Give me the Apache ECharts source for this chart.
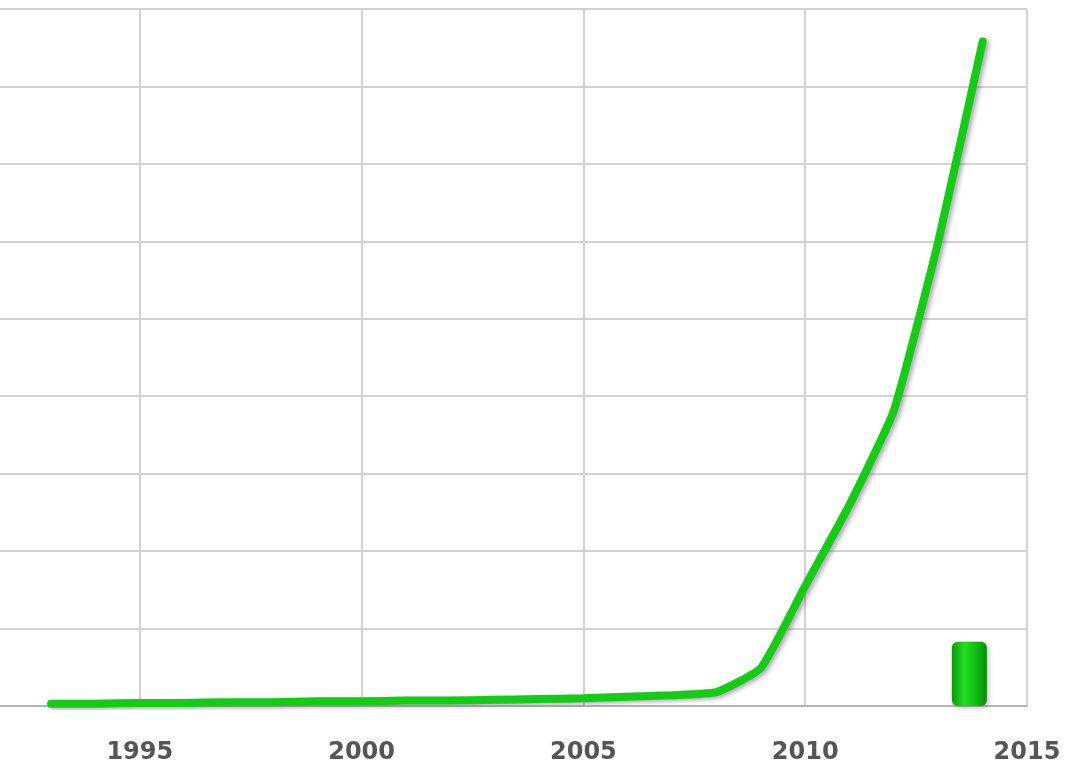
<!DOCTYPE html>
<html>
<head>
<meta charset="utf-8">
<script src="https://cdn.jsdelivr.net/npm/echarts@6/dist/echarts.min.js"></script>
<style>
html, body { margin: 0; padding: 0; background: #fff; overflow: hidden; }
/* chart is wider than the window, the left part (1990 + y labels) falls outside */
#chart { position: absolute; left: -82px; top: 0; width: 1149px; height: 766px; }
</style>
</head>
<body>
<div id="chart"></div>
<script>
// years on the curve
var years = [1993, 1994, 1995, 1996, 1997, 1998, 1999, 2000, 2001, 2002, 2003,
             2004, 2005, 2006, 2007, 2008, 2009, 2010, 2011, 2012, 2013, 2014];
// values (one grid step = 100)
var values = [3, 3, 4, 4, 5, 5, 6, 6, 7, 7, 8,
              9, 10, 12, 14, 18, 49, 155, 260, 382, 600, 858];
// the lone bar near the right edge
var barYear = [2013.7];
var barValue = [83];
var xTicks = [1990, 1995, 2000, 2005, 2010, 2015];

var myChart = echarts.init(document.getElementById('chart'));
var green = '#14cc14';

var option = {
	backgroundColor: '#fff',
	animation: false,
	grid: {
		left: 0,
		right: 40,
		top: 9,
		bottom: 60,
		outerBoundsMode: 'none'   //不要把标签挤进容器
	},
	xAxis: {
		type: 'value',
		min: xTicks[0],
		max: xTicks[xTicks.length - 1],
		interval: 5,
		axisLine: { show: true, lineStyle: { color: '#b4b4b4', width: 2 } },
		axisTick: { show: false },
		axisLabel: {
			margin: 35,
			color: '#555',
			fontFamily: 'DejaVu Sans',
			fontWeight: 'bold',
			fontSize: 24,
			formatter: function (v) { return String(v); }
		},
		splitLine: { show: true, lineStyle: { color: '#d2d2d2', width: 2 } }
	},
	yAxis: {
		type: 'value',
		min: 0,
		max: 900,
		interval: 100,
		axisLine: { show: false },
		axisTick: { show: false },
		axisLabel: { show: false },
		splitLine: { show: true, lineStyle: { color: '#d2d2d2', width: 2 } }
	},
	series: [
		{
			type: 'line',
			data: years.map(function (y, i) { return [y, values[i]]; }),
			showSymbol: false,
			smooth: 0.15,
			lineStyle: {
				color: green,
				width: 8,
				cap: 'round',
				shadowColor: 'rgba(90,70,110,0.45)',
				shadowBlur: 4,
				shadowOffsetX: 3,
				shadowOffsetY: 2
			},
			z: 3
		},
		{
			type: 'bar',
			data: barYear.map(function (y, i) { return [y, barValue[i]]; }),
			barWidth: 35,
			itemStyle: {
				borderRadius: 6,
				color: new echarts.graphic.LinearGradient(0, 0, 1, 0, [
					{ offset: 0, color: '#0a9a0a' },
					{ offset: 0.35, color: '#22dd22' },
					{ offset: 0.7, color: '#11bb11' },
					{ offset: 1, color: '#078a07' }
				]),
				shadowColor: 'rgba(80,80,80,0.35)',
				shadowBlur: 4,
				shadowOffsetX: 2,
				shadowOffsetY: 2
			},
			z: 2
		}
	]
};
myChart.setOption(option);
</script>
</body>
</html>
